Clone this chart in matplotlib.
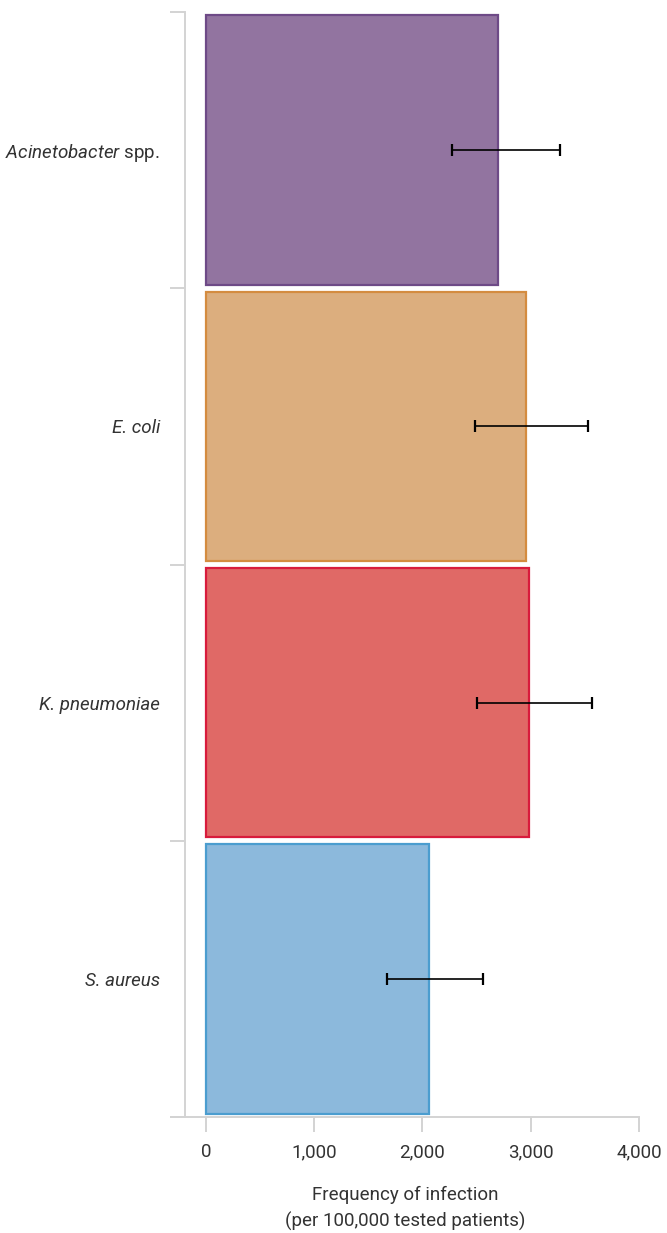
import matplotlib.pyplot as plt
import numpy as np

# data
species = ["Acinetobacter spp.", "E. coli", "K. pneumoniae", "S. aureus"]
frequency = [2696, 2955, 2982, 2060]
ci_low = [2272, 2485, 2503, 1672]
ci_high = [3270, 3528, 3565, 2558]
x_ticks = [0, 1000, 2000, 3000, 4000]

fill_colors = ["#9274a0", "#dcae7e", "#e06966", "#8cb9dc"]
edge_colors = ["#6e4a87", "#d48c40", "#d81b3c", "#4b9dcf"]

plt.rcParams["font.family"] = ["Roboto", "DejaVu Sans"]
plt.rcParams["mathtext.fontset"] = "custom"
plt.rcParams["mathtext.rm"] = "Roboto"
plt.rcParams["mathtext.it"] = "Roboto:italic"

W, H = 667, 1233
fig = plt.figure(figsize=(W / 100, H / 100), dpi=100)
ax = fig.add_axes([171 / W, (H - 1117) / H, (639 - 171) / W, (1117 - 12) / H])

y = np.arange(len(species)) + 0.5
freq = np.array(frequency)
err = [freq - np.array(ci_low), np.array(ci_high) - freq]

ax.barh(y, freq, height=0.975, color=fill_colors, edgecolor=edge_colors, linewidth=1.6, zorder=2)
ax.errorbar(freq, y, xerr=err, fmt="none", ecolor="black", elinewidth=1.2,
            capsize=4, capthick=1.6, zorder=3)

ax.set_xlim(-323, 4000)
ax.set_ylim(len(species), 0)

for s in ["top", "right"]:
    ax.spines[s].set_visible(False)
ax.spines["left"].set_position(("data", -194))
ax.spines["left"].set_color("#d3d3d3")
ax.spines["bottom"].set_color("#d3d3d3")
ax.spines["left"].set_linewidth(1.4)
ax.spines["bottom"].set_linewidth(1.4)

txt = "#333333"
ax.set_xticks(x_ticks)
ax.set_xticklabels([f"{v:,}" for v in x_ticks])
ax.tick_params(axis="x", length=11, width=1.4, color="#d3d3d3", labelsize=13.5,
               labelcolor=txt, pad=8)

# boundaries as major ticks, names as minor ticks
ax.set_yticks(np.arange(len(species) + 1))
ax.set_yticklabels([])
ax.set_yticks(y, minor=True)
labels = []
for name in species:
    if name.endswith(" spp."):
        labels.append(name[:-5] + r" $\mathrm{spp.}$")
    else:
        labels.append(name)
ax.set_yticklabels(labels, minor=True, fontstyle="italic")
ax.tick_params(axis="y", which="major", length=11, width=1.4, color="#d3d3d3")
ax.tick_params(axis="y", which="minor", length=0, labelsize=13.5,
               labelcolor=txt, pad=18)

ax.set_xlabel("Frequency of infection\n(per 100,000 tested patients)", fontsize=13.5,
              color=txt, labelpad=18, linespacing=1.5)

fig.savefig("out.png", dpi=100)
